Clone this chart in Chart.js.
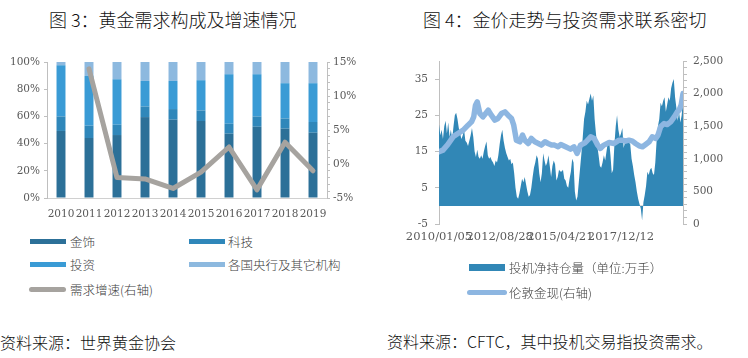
<!DOCTYPE html>
<html><head><meta charset="utf-8">
<script src="https://cdn.jsdelivr.net/npm/chart.js@4/dist/chart.umd.min.js"></script>
<style>
html,body{margin:0;padding:0;background:#fff;}
body{width:748px;height:358px;overflow:hidden;position:relative;font-family:"Noto Sans CJK SC","Noto Sans",sans-serif;}
.abs{position:absolute;white-space:nowrap;}
.title{font-size:18px;line-height:18px;color:#111;font-weight:300;}
.src{font-size:16px;line-height:16px;color:#111;font-weight:300;}
.lg{position:absolute;height:20px;display:flex;align-items:center;font-size:12.5px;color:#404040;white-space:nowrap;font-weight:300;}
.sw{position:absolute;}
canvas{position:absolute;}
</style></head><body>
<div class="abs title" style="left:49px;top:10px">图 3：黄金需求构成及增速情况</div>
<div class="abs title" style="left:423px;top:10px">图 4：金价走势与投资需求联系密切</div>
<canvas id="c1" width="374" height="190" style="left:0;top:40px"></canvas>
<canvas id="c2" width="374" height="220" style="left:374px;top:40px"></canvas>
<div class="abs src" style="left:0;top:334px">资料来源：世界黄金协会</div>
<div class="abs src" style="left:387px;top:333px">资料来源：CFTC，其中投机交易指投资需求。</div>
<div id="legends"></div>
<script>
// ---------- Figure 3 data ----------
const years = ['2010','2011','2012','2013','2014','2015','2016','2017','2018','2019'];
const jewelry      = [49.3,44.1,46.3,59.5,57.6,56.6,47.3,52.4,51.0,48.0];
const technology   = [10.7, 9.1, 7.6, 7.8, 7.8, 7.8, 7.3, 7.6, 7.5, 7.9];
const investment   = [37.6,36.6,33.4,18.8,20.7,22.2,36.4,31.0,25.9,28.5];
const centralBanks = [ 2.4,10.2,12.7,13.9,13.9,13.4, 9.0, 9.0,15.6,15.6];
const demandGrowth = [null,14.0,-2.0,-2.2,-3.6,-1.2,2.5,-3.8,3.2,-1.0];

// ---------- Figure 4 data ----------
// x tick labels (weeks since 2010/01/05)
const xTickWeeks  = [0,138,276,414];
const xTickLabels = ['2010/01/05','2012/08/28','2015/04/21','2017/12/12'];
const leftTickValues = [-5,5,15,25,35];
// speculative net position (万手), one reading every 3 weeks from 2010/01/05
const netPosStepWeeks = 3;
const netPositions = [
22.5,19.5,21,18.5,22,23.5,20,23,19,21,
18.5,22,25,25.7,24,21.5,20,18.5,19.5,21,
18,17.5,16.5,18,19.5,21.5,19,15,13.5,15.5,
13.5,13,14,13,15,16.5,17.8,14,13,13.5,
12.5,12,11,12.5,12,14,17,19.5,21,18,
16,14.5,13.5,12.5,13,11.5,12,9,5,2.5,
2,3.5,5.5,7.5,6.5,8,6,4,2.5,3,
5,8,10.5,12,14,13,9,6.5,9,14.5,
12.5,11,12,14,11,8,11,12.5,11.5,7,
8,10,9.5,
9.5,10,7.5,7,5.5,5,7.5,9.5,13,12,
4,1.5,2.5,6.5,10.5,14.5,19,24,26,29,
28,29.5,31,29,30.5,24,20,16.5,14,11,
10.5,12,14,12.5,15,17.5,18,14,9,10,
17,22,25,21,19,20,21.5,16,17.5,18.5,
18.5,17.5,17,13,11,8.5,6.5,4,2,0.5,
-0.7,-4,1,3,5.5,9.4,8.5,10,10.5,9,
8.5,12,18,22,24,28.5,27.5,29,30,26,
28,30,29,32.5,34,35,30,27,23.5,26,
23,25,29.5];
// London gold spot (right axis)
const goldWeeks  = [0,9,20,32,43,55,66,74,79,83,87,93,100,112,119,127,134,142,150,157,165,170,176,184,190,195,203,210,218,226,233,241,248,256,263,271,277,288,299,307,314,322,333,345,353,361,367,375,387,398,409,417,424,432,440,447,455,463,470,478,485,493,498,504,512,519,527,535,542,546,551,555];
const goldPrices = [1107,1133,1220,1337,1388,1440,1516,1567,1643,1822,1873,1694,1643,1745,1669,1592,1618,1694,1720,1669,1618,1516,1286,1261,1363,1286,1235,1312,1261,1235,1210,1261,1235,1210,1210,1184,1220,1184,1148,1184,1082,1210,1250,1337,1312,1210,1159,1210,1250,1235,1286,1286,1271,1286,1271,1235,1199,1184,1220,1261,1337,1312,1363,1490,1541,1526,1567,1643,1720,1745,1830,2000];

const tickFont = {family:'"DejaVu Serif", serif', size:10.5};
const tickColor = '#595959';
const axisColor = '#BFBFBF';
const clear = 'rgba(0,0,0,0)';

// ---------- Chart 1 ----------
const chart1 = new Chart(document.getElementById('c1'), {
  type:'bar',
  data:{labels:years, datasets:[
    {type:'line', label:'需求增速(右轴)', data:demandGrowth, yAxisID:'y1', borderColor:'#A6A39F', backgroundColor:'#A6A39F',
     borderWidth:5, pointRadius:0, tension:0, order:0, borderCapStyle:'round', borderJoinStyle:'round'},
    {label:'金饰', data:jewelry, backgroundColor:'#2C7098', order:1},
    {label:'科技', data:technology, backgroundColor:'#2F87BA', order:1},
    {label:'投资', data:investment, backgroundColor:'#3A9BD5', order:1},
    {label:'各国央行及其它机构', data:centralBanks, backgroundColor:'#8DB9DF', order:1}
  ]},
  options:{
    responsive:false, animation:false, devicePixelRatio:1,
    layout:{padding:{top:22,left:0,right:0,bottom:0}},
    datasets:{bar:{barPercentage:0.32, categoryPercentage:1}},
    plugins:{legend:{display:false}, tooltip:{enabled:false}},
    scales:{
      x:{stacked:true, grid:{display:true, drawOnChartArea:false, drawTicks:false, color:clear},
         border:{display:true, color:'#D0D0D0'},
         ticks:{padding:10, font:tickFont, color:tickColor, maxRotation:0, autoSkip:false},
         afterFit(s){s.height=32;}},
      y:{stacked:true, min:0, max:100,
         ticks:{stepSize:20, callback:v=>v+'%', padding:4, font:tickFont, color:tickColor},
         grid:{drawOnChartArea:false, tickLength:3, color:axisColor},
         border:{color:axisColor}, afterFit(s){s.width=47;}},
      y1:{position:'right', min:-5, max:15,
         ticks:{stepSize:1, autoSkip:false, callback:v=>(v%5===0 ? v+'%' : ''), padding:3, font:tickFont, color:tickColor},
         grid:{drawOnChartArea:false, tickLength:3, color:axisColor},
         border:{color:axisColor}, afterFit(s){s.width=47;}}
    }
  }
});

// ---------- Chart 2 ----------
const netPts = netPositions.map((v,i)=>({x:i*netPosStepWeeks, y:v}));
const goldPts = goldWeeks.map((w,i)=>({x:w, y:goldPrices[i]}));
const chart2 = new Chart(document.getElementById('c2'), {
  type:'line',
  data:{datasets:[
    {label:'伦敦金现(右轴)', data:goldPts, yAxisID:'y1', borderColor:'#8DB6E1', backgroundColor:'#8DB6E1',
     borderWidth:5.5, pointRadius:0, tension:0, order:0, borderCapStyle:'round', borderJoinStyle:'round', fill:false},
    {label:'投机净持仓量（单位:万手）', data:netPts, yAxisID:'y', borderWidth:0, borderColor:'#3187B6',
     backgroundColor:'#3187B6', fill:'origin', pointRadius:0, tension:0, order:1}
  ]},
  options:{
    responsive:false, animation:false, devicePixelRatio:1,
    layout:{padding:{top:21,left:0,right:0,bottom:0}},
    plugins:{legend:{display:false}, tooltip:{enabled:false}},
    scales:{
      x:{type:'linear', min:0, max:555,
         afterBuildTicks(s){ s.ticks = xTickWeeks.map(v=>({value:v})); },
         ticks:{autoSkip:false, maxRotation:0, minRotation:0, padding:6,
                callback:v=>xTickLabels[xTickWeeks.indexOf(v)],
                font:{family:'"DejaVu Serif", serif', size:11.5}, color:tickColor},
         grid:{display:true, drawOnChartArea:false, drawTicks:false, color:clear},
         border:{display:false}, afterFit(s){s.height=36;}},
      y:{min:-5, max:40, z:1,
         ticks:{stepSize:5, autoSkip:false, padding:7, font:tickFont, color:tickColor,
                callback:v=>(leftTickValues.includes(v) ? String(v) : '')},
         grid:{drawOnChartArea:true, tickLength:4,
               color:ctx=>(ctx.tick && ctx.tick.value===0 ? '#D9D9D9' : clear),
               tickColor:ctx=>(ctx.tick && leftTickValues.includes(ctx.tick.value) ? axisColor : clear)},
         border:{color:axisColor}, afterFit(s){s.width=65;}},
      y1:{position:'right', min:0, max:2500,
         ticks:{stepSize:100, autoSkip:false, padding:6, font:tickFont, color:tickColor,
                callback:v=>(v%500===0 ? v.toLocaleString('en-US') : '')},
         grid:{drawOnChartArea:false, tickLength:4, color:axisColor},
         border:{color:axisColor}, afterFit(s){s.width=65;}}
    }
  }
});

// ---------- HTML legends built from the datasets ----------
function addLegend(chart, idx, left, cy, swLeft, swWidth, swH){
  const ds = chart.data.datasets[idx];
  const isLine = (ds.type||chart.config.type)==='line' && !ds.fill;
  const host = document.getElementById('legends');
  const sw = document.createElement('div');
  sw.className='sw';
  sw.style.left = swLeft+'px';
  sw.style.width = swWidth+'px';
  sw.style.height = swH+'px';
  sw.style.top = (cy - swH/2)+'px';
  sw.style.background = isLine ? ds.borderColor : ds.backgroundColor;
  if(isLine) sw.style.borderRadius = (swH/2)+'px';
  host.appendChild(sw);
  const t = document.createElement('div');
  t.className='lg';
  t.style.left = left+'px';
  t.style.top = (cy-10)+'px';
  t.textContent = ds.label;
  host.appendChild(t);
}
addLegend(chart1,1,70,241,30,36,5);
addLegend(chart1,2,228,241,189,36,5);
addLegend(chart1,3,70,264,30,36,5);
addLegend(chart1,4,228,264,189,36,5);
addLegend(chart1,0,70,289,29,37,5);
addLegend(chart2,1,509,267,469,36,7);
addLegend(chart2,0,509,292,467,40,5);
</script>
</body></html>
